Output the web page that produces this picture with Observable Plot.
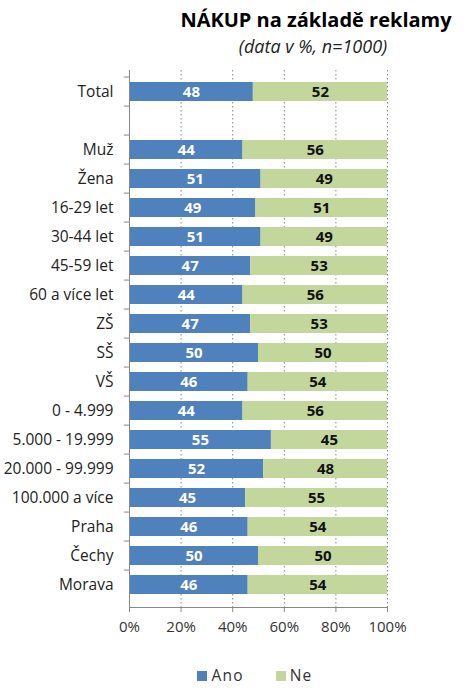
<!DOCTYPE html>
<html>
<head>
<meta charset="utf-8">
<script src="https://cdn.jsdelivr.net/npm/d3@7"></script>
<script src="https://cdn.jsdelivr.net/npm/@observablehq/plot@0.6"></script>
<style>
  body { margin: 0; background: #fff; font-family: "Open Sans", sans-serif; }
  #wrap { width: 465px; height: 688px; position: relative; overflow: hidden; }
  #head { height: 62px; position: relative; }
  #title { position: absolute; left: 0; width: 632px; top: 6px; text-align: center; font-weight: bold; font-size: 20px; color: #000; white-space: nowrap; }
  #subtitle { position: absolute; left: 0; width: 626px; top: 34px; text-align: center; font-style: italic; font-size: 18px; color: #222; white-space: nowrap; }
  #legend { position: absolute; top: 664px; left: 0; width: 465px; display: flex; justify-content: center; gap: 32px; font-size: 15.5px; color: #333; letter-spacing: 1.2px; padding-left: 45px; box-sizing: border-box; }
  #legend span.sw { display: inline-block; width: 10px; height: 10px; margin-right: 4px; vertical-align: 0px; }
</style>
</head>
<body>
<div id="wrap">
  <div id="head">
    <div id="title">NÁKUP na základě reklamy</div>
    <div id="subtitle">(data v %, n=1000)</div>
  </div>
  <div id="chart"></div>
  <div id="legend"></div>
</div>
<script>
const categories = ["Total", "", "Muž", "Žena", "16-29 let", "30-44 let", "45-59 let", "60 a více let", "ZŠ", "SŠ", "VŠ", "0 - 4.999", "5.000 - 19.999", "20.000 - 99.999", "100.000 a více", "Praha", "Čechy", "Morava"];
const ano = [48, null, 44, 51, 49, 51, 47, 44, 47, 50, 46, 44, 55, 52, 45, 46, 50, 46];
const ne  = [52, null, 56, 49, 51, 49, 53, 56, 53, 50, 54, 56, 45, 48, 55, 54, 50, 54];
const series = ["Ano", "Ne"];
const colors = ["#4f81bd", "#c3d69b"];
const xTicks = [0, 20, 40, 60, 80, 100];

const rows = [];
categories.forEach((c, i) => {
  if (ano[i] != null) rows.push({cat: c, resp: "Ano", value: ano[i]});
  if (ne[i] != null) rows.push({cat: c, resp: "Ne", value: ne[i]});
});

const W = 465, H = 585, mt = 8, mb = 40, ml = 129, mr = 78;
const step = (H - mt - mb) / categories.length;

const chart = Plot.plot({
  width: W, height: H,
  marginTop: mt, marginBottom: mb, marginLeft: ml, marginRight: mr,
  style: {fontFamily: "Open Sans, sans-serif", fontSize: "14px", color: "#333", background: "#fff", overflow: "visible"},
  x: {domain: [0, 100]},
  y: {domain: categories, padding: 0.34},
  color: {domain: series, range: colors},
  marks: [
    Plot.ruleX(xTicks.slice(1), {stroke: "#888", strokeDasharray: "1.5,2.5", strokeWidth: 1}),
    Plot.barX(rows, Plot.stackX({x: "value", y: "cat", fill: "resp", order: series})),
    Plot.text(rows, Plot.stackX({x: "value", y: "cat", z: "resp", order: series,
      text: d => String(d.value),
      fill: d => d.resp === "Ano" ? "#fff" : "#111",
      fontWeight: "bold", fontSize: 15})),
    Plot.ruleX([0], {stroke: "#888"}),
    Plot.ruleY(categories, {y: d => d, x1: -2, x2: 0, dy: -step / 2, stroke: "#888"}),
    Plot.frame({anchor: "bottom", stroke: "#888"}),
    Plot.axisY({tickSize: 0, tickPadding: 16, fontSize: 15.5, fill: "#222",
      tickFormat: d => d, label: null}),
    Plot.axisX({ticks: xTicks, tickSize: 5, tickPadding: 9, fontSize: 15, fill: "#333",
      stroke: "#888", tickFormat: d => d + "%", label: null})
  ]
});

document.getElementById("chart").appendChild(chart);

const leg = document.getElementById("legend");
series.forEach((s, i) => {
  const item = document.createElement("div");
  item.innerHTML = `<span class="sw" style="background:${colors[i]}"></span>${s}`;
  leg.appendChild(item);
});
</script>
</body>
</html>
